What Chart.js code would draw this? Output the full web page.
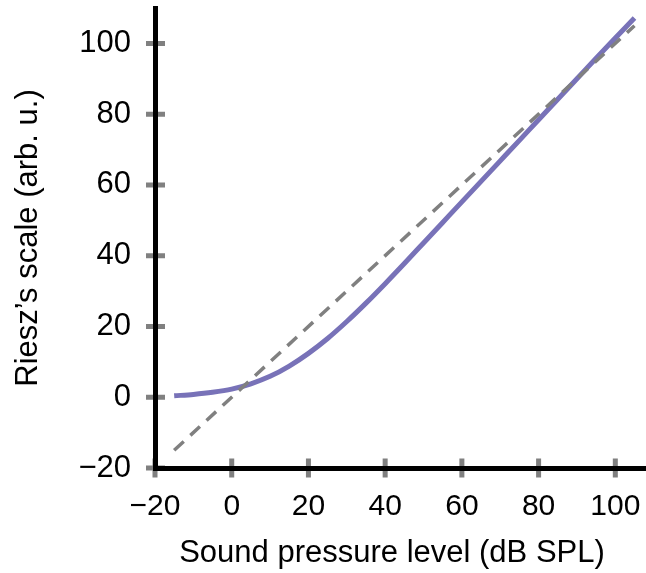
<!DOCTYPE html>
<html>
<head>
<meta charset="utf-8">
<script src="https://cdn.jsdelivr.net/npm/chart.js@4.4.1/dist/chart.umd.min.js"></script>
<style>
  html, body { margin: 0; padding: 0; background: #fff; }
  #wrap { width: 646px; height: 573px; }
</style>
</head>
<body>
<div id="wrap"><canvas id="rieszChart" width="646" height="573"></canvas></div>
<script>
// Riesz's loudness scale vs sound pressure level
const spl = [-15, -10, -5, 0, 5, 10, 15, 20, 25, 30, 35, 40, 45, 50, 55, 60, 65, 70, 75, 80, 85, 90, 95, 100, 105];
const riesz = [0.4, 0.8, 1.4, 2.3, 3.8, 5.9, 8.8, 12.4, 16.6, 21.4, 26.6, 32.1, 37.8, 43.6, 49.4, 55.2, 61.0, 66.8, 72.6, 78.4, 84.2, 90.0, 95.8, 101.5, 107.2];

// dashed y = x reference
const refX = [-15, 105];
const refY = [-15, 105];

const xTicks = [-20, 0, 20, 40, 60, 80, 100];
const yTicks = [-20, 0, 20, 40, 60, 80, 100];

const xTitle = 'Sound pressure level (dB SPL)';
const yTitle = 'Riesz\u2019s scale (arb. u.)';

const FONT = '"Liberation Sans", Arial, Helvetica, sans-serif';

function fmt(v) {
  return v < 0 ? '\u2212' + Math.abs(v) : String(v);
}

function toPoints(xs, ys) {
  return xs.map((x, i) => ({ x: x, y: ys[i] }));
}

// gray tick marks that cross the axis line (drawn before the axes so the black line sits on top)
const crossTicks = {
  id: 'crossTicks',
  beforeDraw(chart) {
    const { ctx, chartArea, scales } = chart;
    ctx.save();
    ctx.strokeStyle = '#808080';
    ctx.lineWidth = 5;
    ctx.beginPath();
    xTicks.forEach(v => {
      const px = scales.x.getPixelForValue(v);
      ctx.moveTo(px, chartArea.bottom - 9.5);
      ctx.lineTo(px, chartArea.bottom + 9.5);
    });
    yTicks.forEach(v => {
      const py = scales.y.getPixelForValue(v);
      ctx.moveTo(chartArea.left - 9, py);
      ctx.lineTo(chartArea.left + 10, py);
    });
    ctx.stroke();
    ctx.restore();
  },
  // x title sits a little left of the plot centre in the original
  afterDraw(chart) {
    const ctx = chart.ctx;
    ctx.save();
    ctx.fillStyle = '#000';
    ctx.font = '31px ' + FONT;
    ctx.textAlign = 'center';
    ctx.textBaseline = 'middle';
    ctx.fillText(xTitle, 392, 553);
    ctx.restore();
  }
};

const ctx = document.getElementById('rieszChart');

new Chart(ctx, {
  type: 'line',
  data: {
    datasets: [{
      label: 'y = x',
      data: toPoints(refX, refY),
      borderColor: '#808080',
      borderWidth: 3.5,
      borderDash: [13, 9],
      pointRadius: 0,
      fill: false
    }, {
      label: 'Riesz',
      data: toPoints(spl, riesz),
      borderColor: '#7872b8',
      borderWidth: 5,
      pointRadius: 0,
      cubicInterpolationMode: 'monotone',
      fill: false
    }]
  },
  options: {
    responsive: false,
    animation: false,
    devicePixelRatio: 1,
    events: [],
    layout: { padding: { top: 8, left: 0, right: 0, bottom: 0 } },
    plugins: {
      legend: { display: false },
      tooltip: { enabled: false }
    },
    scales: {
      x: {
        type: 'linear',
        min: -20,
        max: 108,
        afterBuildTicks: s => { s.ticks = xTicks.map(v => ({ value: v })); },
        afterFit: s => { s.height = 105; s.paddingLeft = 0; s.paddingRight = 0; },
        grid: { display: false, drawTicks: false },
        border: { display: true, color: '#000', width: 5 },
        ticks: {
          padding: 21,
          color: '#000',
          font: { family: FONT, size: 30 },
          maxRotation: 0,
          autoSkip: false,
          callback: v => fmt(v)
        },
        title: { display: false }
      },
      y: {
        type: 'linear',
        min: -20,
        max: 110,
        afterBuildTicks: s => { s.ticks = yTicks.map(v => ({ value: v })); },
        afterFit: s => { s.width = 155; s.paddingTop = 0; s.paddingBottom = 0; },
        grid: { display: false, drawTicks: false },
        border: { display: true, color: '#000', width: 5 },
        ticks: {
          padding: 24,
          color: '#000',
          font: { family: FONT, size: 31 },
          autoSkip: false,
          callback: v => fmt(v)
        },
        title: {
          display: true,
          text: yTitle,
          color: '#000',
          font: { family: FONT, size: 31 },
          padding: { top: 10, bottom: 0 }
        }
      }
    }
  },
  plugins: [crossTicks]
});
</script>
</body>
</html>
